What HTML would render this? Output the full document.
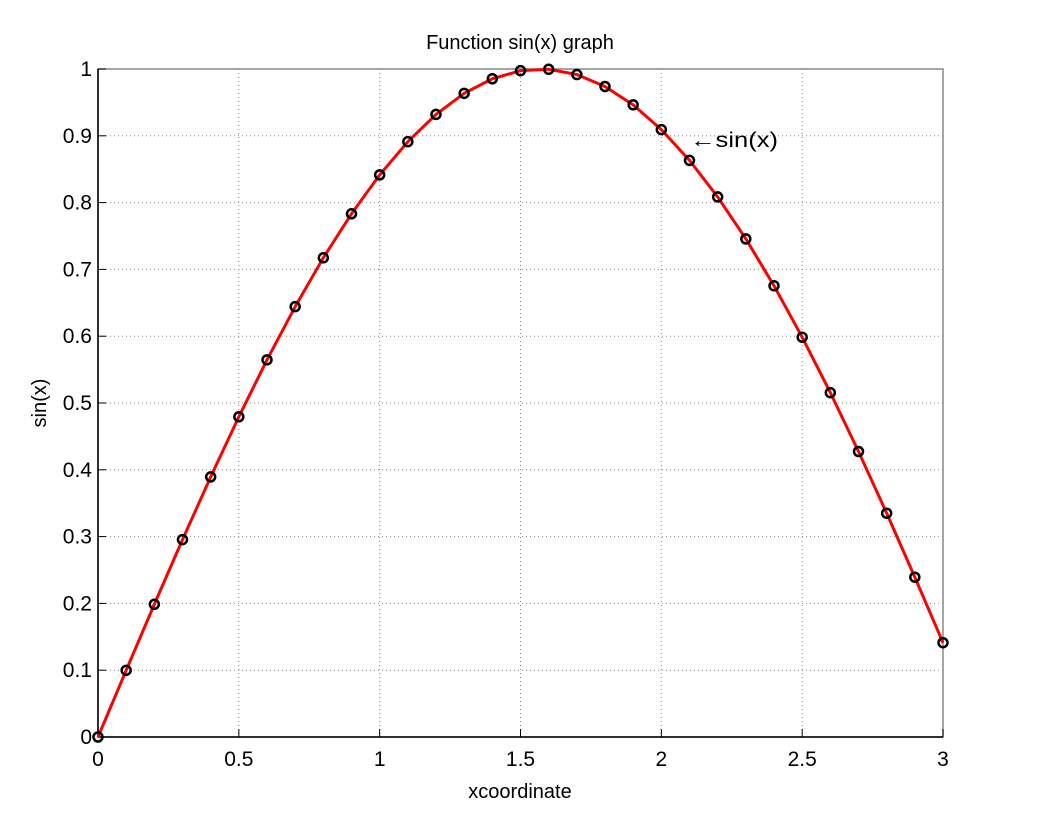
<!DOCTYPE html>
<html><head><meta charset="utf-8"><style>
body{margin:0;background:#fff;}
svg text{font-family:"Liberation Sans",sans-serif;fill:#000;}
</style></head><body>
<svg id="chart" width="1043" height="815" xmlns="http://www.w3.org/2000/svg">
<rect width="1043" height="815" fill="#fff"/>
<g id="grid"></g>
<rect x="98" y="69" width="845" height="668" fill="none" stroke="#888" stroke-width="1.5"/>
<line x1="98" y1="69" x2="98" y2="737" stroke="#000" stroke-width="1.5"/>
<line x1="98" y1="737" x2="943" y2="737" stroke="#000" stroke-width="1.5"/>
<g id="ticks"></g>
<g id="series"></g>
<text x="520" y="49" font-size="20" text-anchor="middle">Function sin(x) graph</text>
<text x="520" y="798" font-size="20" text-anchor="middle">xcoordinate</text>
<text transform="translate(46,403) rotate(-90)" font-size="20" text-anchor="middle">sin(x)</text>
<text x="690" y="147" font-size="21" textLength="88" lengthAdjust="spacingAndGlyphs">←sin(x)</text>
</svg>
<script>
const xVals=[0,0.1,0.2,0.3,0.4,0.5,0.6,0.7,0.8,0.9,1.0,1.1,1.2,1.3,1.4,1.5,1.6,1.7,1.8,1.9,2.0,2.1,2.2,2.3,2.4,2.5,2.6,2.7,2.8,2.9,3.0];
const yVals=[0,0.0998,0.1987,0.2955,0.3894,0.4794,0.5646,0.6442,0.7174,0.7833,0.8415,0.8912,0.9320,0.9636,0.9854,0.9975,0.9996,0.9917,0.9738,0.9463,0.9093,0.8632,0.8085,0.7457,0.6755,0.5985,0.5155,0.4274,0.3350,0.2392,0.1411];
const xTicks=[0,0.5,1,1.5,2,2.5,3];
const xTickLabels=["0","0.5","1","1.5","2","2.5","3"];
const yTicks=[0,0.1,0.2,0.3,0.4,0.5,0.6,0.7,0.8,0.9,1];
const yTickLabels=["0","0.1","0.2","0.3","0.4","0.5","0.6","0.7","0.8","0.9","1"];
const NS="http://www.w3.org/2000/svg";
const L=98,R=943,T=69,B=737;
const sx=v=>L+(v-0)/(3-0)*(R-L);
const sy=v=>B-(v-0)/(1-0)*(B-T);
function mk(tag,attrs,parent){const e=document.createElementNS(NS,tag);for(const k in attrs)e.setAttribute(k,attrs[k]);parent.appendChild(e);return e;}
const grid=document.getElementById('grid'),ticks=document.getElementById('ticks'),series=document.getElementById('series');
xTicks.forEach((t,i)=>{
  const x=sx(t);
  if(i>0&&i<xTicks.length-1){const g=mk('line',{x1:x,y1:T,x2:x,y2:B,stroke:'#888','stroke-dasharray':'1,3'},grid);
  
  }
  const tk=mk('line',{x1:x,y1:B,x2:x,y2:B-8,stroke:'#000'},ticks);
  
  
  const lb=mk('text',{x:x,y:B+29,'font-size':21,'text-anchor':'middle'},ticks);
  lb.textContent=xTickLabels[i];
  
  
});
yTicks.forEach((t,i)=>{
  const y=sy(t);
  if(i>0&&i<yTicks.length-1){const g=mk('line',{x1:L,y1:y,x2:R,y2:y,stroke:'#888','stroke-dasharray':'1,3'},grid);
  
  }
  const tk=mk('line',{x1:L,y1:y,x2:L+8,y2:y,stroke:'#000'},ticks);
  
  
  const lb=mk('text',{x:L-6,y:y+7,'font-size':21,'text-anchor':'end'},ticks);
  lb.textContent=yTickLabels[i];
  
  
});
const pts=xVals.map((x,i)=>sx(x)+','+sy(yVals[i])).join(' ');
const line=mk('polyline',{points:pts,fill:'none',stroke:'#f00','stroke-width':3,'stroke-linejoin':'round'},series);


xVals.forEach((x,i)=>{
  const c=mk('circle',{cx:sx(x),cy:sy(yVals[i]),r:4.5,fill:'none',stroke:'#000','stroke-width':2.5},series);
  
  
});
</script>
</body></html>
